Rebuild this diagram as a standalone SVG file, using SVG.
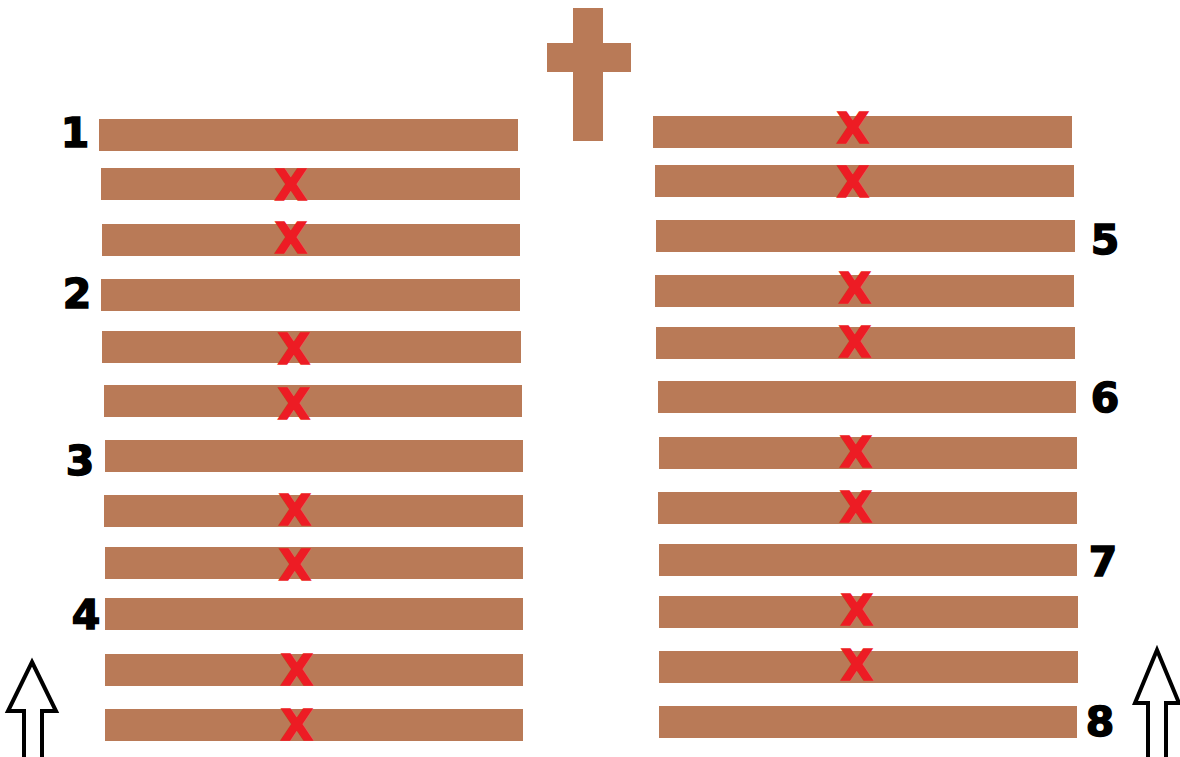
<svg xmlns="http://www.w3.org/2000/svg" width="1180" height="757" viewBox="0 0 1180 757">
<style>
.p{fill:#b97a57}
.x{fill:#ed1c24;stroke:#ed1c24;stroke-width:1.5;font-family:"DejaVu Sans",sans-serif;font-weight:bold;font-size:42px;text-anchor:middle;dominant-baseline:central}
.n{fill:#000;stroke:#000;stroke-width:1.5;font-family:"DejaVu Sans",sans-serif;font-weight:bold;font-size:41px;text-anchor:middle;dominant-baseline:central}
.a{fill:#fff;stroke:#000;stroke-width:4;stroke-linejoin:miter}
</style>
<rect width="1180" height="757" fill="#fff"/>
<g id="cross">
<rect class="p" x="573" y="8" width="30" height="133"/>
<rect class="p" x="547" y="43" width="84" height="29"/>
</g>
<g id="left-planks">
<rect class="p" x="99" y="119" width="419" height="32"/>
<rect class="p" x="101" y="168" width="419" height="32"/>
<rect class="p" x="102" y="224" width="418" height="32"/>
<rect class="p" x="101" y="279" width="419" height="32"/>
<rect class="p" x="102" y="331" width="419" height="32"/>
<rect class="p" x="104" y="385" width="418" height="32"/>
<rect class="p" x="105" y="440" width="418" height="32"/>
<rect class="p" x="104" y="495" width="419" height="32"/>
<rect class="p" x="105" y="547" width="418" height="32"/>
<rect class="p" x="105" y="598" width="418" height="32"/>
<rect class="p" x="105" y="654" width="418" height="32"/>
<rect class="p" x="105" y="709" width="418" height="32"/>
</g>
<g id="right-planks">
<rect class="p" x="653" y="116" width="419" height="32"/>
<rect class="p" x="655" y="165" width="419" height="32"/>
<rect class="p" x="656" y="220" width="419" height="32"/>
<rect class="p" x="655" y="275" width="419" height="32"/>
<rect class="p" x="656" y="327" width="419" height="32"/>
<rect class="p" x="658" y="381" width="418" height="32"/>
<rect class="p" x="659" y="437" width="418" height="32"/>
<rect class="p" x="658" y="492" width="419" height="32"/>
<rect class="p" x="659" y="544" width="418" height="32"/>
<rect class="p" x="659" y="596" width="419" height="32"/>
<rect class="p" x="659" y="651" width="419" height="32"/>
<rect class="p" x="659" y="706" width="418" height="32"/>
</g>
<g id="left-marks">
<text class="x" x="291" y="185">X</text>
<text class="x" x="291" y="238">X</text>
<text class="x" x="294" y="349">X</text>
<text class="x" x="294" y="404">X</text>
<text class="x" x="295" y="510">X</text>
<text class="x" x="295" y="565">X</text>
<text class="x" x="297" y="670">X</text>
<text class="x" x="297" y="725">X</text>
</g>
<g id="right-marks">
<text class="x" x="853" y="128">X</text>
<text class="x" x="853" y="182">X</text>
<text class="x" x="855" y="288">X</text>
<text class="x" x="855" y="342">X</text>
<text class="x" x="856" y="452">X</text>
<text class="x" x="856" y="507">X</text>
<text class="x" x="857" y="610">X</text>
<text class="x" x="857" y="665">X</text>
</g>
<g id="numbers">
<text class="n" x="75" y="133">1</text>
<text class="n" x="77" y="294">2</text>
<text class="n" x="80" y="461">3</text>
<text class="n" x="86" y="615">4</text>
<text class="n" x="1105" y="240">5</text>
<text class="n" x="1105" y="398">6</text>
<text class="n" x="1103" y="562">7</text>
<text class="n" x="1100" y="722">8</text>
</g>
<g id="arrows">
<path class="a" d="M32,662 L56,711 L42,711 L42,760 L24,760 L24,711 L8,711 Z"/>
<path class="a" d="M1157,650 L1179,703 L1166,703 L1166,760 L1148,760 L1148,703 L1135,703 Z"/>
</g>
</svg>
